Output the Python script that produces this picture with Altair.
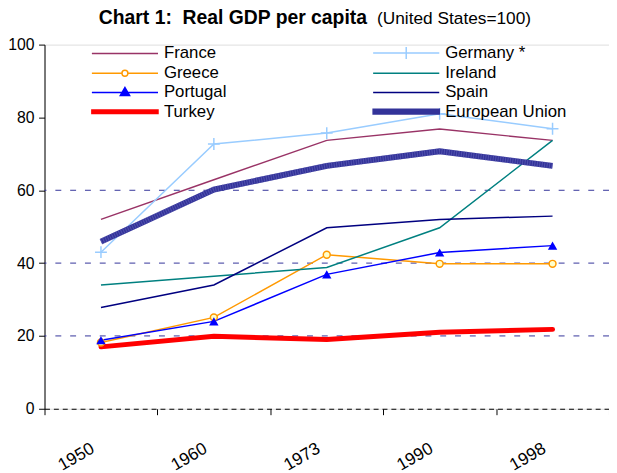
import altair as alt
import pandas as pd

years = ["1950", "1960", "1973", "1990", "1998"]
series_names = ["France", "Germany *", "Greece", "Ireland", "Portugal", "Spain", "Turkey", "European Union"]
series_colors = ["#993366", "#99CCFF", "#FF9900", "#008080", "#0000FF", "#000080", "#FF0000", "#333399"]
legend_fills = ["transparent", "transparent", "transparent", "transparent", "#0000FF", "transparent", "#FF0000", "#333399"]

france = [52.0, 62.9, 73.7, 76.8, 73.7]
germany = [43.0, 72.7, 75.7, 81.0, 76.9]
greece = [18.2, 25.1, 42.3, 39.8, 39.8]
ireland = [34.0, 36.4, 38.8, 49.7, 73.7]
portugal = [18.8, 24.0, 36.9, 42.9, 44.8]
spain = [27.8, 34.0, 49.7, 52.0, 52.9]
turkey = [17.0, 19.9, 19.0, 21.0, 21.8]
eu = [45.9, 60.2, 66.7, 70.7, 66.7]

y_ticks = [0, 20, 40, 60, 80, 100]
grid_values = [20, 40, 60]

all_values = [france, germany, greece, ireland, portugal, spain, turkey, eu]
rows = []
for name, vals in zip(series_names, all_values):
    for yr, v in zip(years, vals):
        rows.append({"series": name, "year": yr, "value": v})
df = pd.DataFrame(rows)
grid_df = pd.DataFrame({"value": grid_values})

FONT = "Liberation Sans"

x_enc = alt.X(
    "year:N", sort=years, bandPosition=0.5,
    scale=alt.Scale(type="band", domain=years, paddingInner=0, paddingOuter=0),
    axis=alt.Axis(title=None, tickBand="extent", labelAngle=-30, labelAlign="right",
                  labelBaseline="top", labelOffset=-13, labelPadding=25, labelFontSize=17.5,
                  labelFont=FONT, labelColor="black", domainDash=[5, 4], domainColor="black",
                  domainWidth=1, tickColor="black", tickSize=6, grid=False),
)
y_enc = alt.Y(
    "value:Q",
    scale=alt.Scale(domain=[0, 100], nice=False, zero=True),
    axis=alt.Axis(title=None, values=y_ticks, grid=False, domainColor="black", tickColor="black",
                  tickSize=6, labelFontSize=16, labelFont=FONT, labelColor="black", labelPadding=4.5),
)

# legend symbol paths (unit = sqrt(symbolSize)/2 = 8 px)
path_plain = "M-1,0L7.375,0"
path_germany = "M-1,0L7.375,0M3.19,-0.75L3.19,0.75"
path_greece = "M-1,0L2.81,0M3.56,0A0.375,0.375,0,1,1,2.81,0A0.375,0.375,0,1,1,3.56,0M3.56,0L7.375,0"
path_portugal = "M-1,0L7.375,0M3.19,-0.62L3.78,0.4L2.6,0.4Z"
path_turkey = "M-1,-0.22L7.375,-0.22L7.375,0.22L-1,0.22Z"
path_eu = "M-1,-0.3L7.375,-0.3L7.375,0.3L-1,0.3Z"
legend_shapes = [path_plain, path_germany, path_greece, path_plain, path_portugal, path_plain, path_turkey, path_eu]

legend = alt.Legend(
    title=None, orient="none", direction="horizontal", legendX=47, legendY=-0.5, columns=2,
    columnPadding=145, rowPadding=2.5, padding=0, symbolSize=256, symbolStrokeWidth=1.5,
    symbolOpacity=1, labelFontSize=17, labelFont=FONT, labelColor="black", labelOffset=56,
)

stroke_scale = alt.Scale(domain=series_names, range=series_colors)

base = alt.Chart(df).encode(x=x_enc, y=y_enc)

grid = alt.Chart(grid_df).mark_rule(color="#333399", strokeDash=[6, 9], strokeWidth=1).encode(y="value:Q")

thin = base.transform_filter(
    "datum.series !== 'Turkey' && datum.series !== 'European Union'"
).mark_line(strokeWidth=1.5).encode(stroke=alt.Stroke("series:N", scale=stroke_scale, legend=legend))

turkey_line = base.transform_filter("datum.series === 'Turkey'").mark_line(
    strokeWidth=5, color="#FF0000", strokeCap="round")
eu_line = base.transform_filter("datum.series === 'European Union'").mark_line(
    strokeWidth=6, color="#333399")
eu_pattern = base.transform_filter("datum.series === 'European Union'").mark_line(
    strokeWidth=6, color="#6A6AC0", strokeDash=[1, 1.5], opacity=0.55)

legend_layer = base.transform_filter("false").mark_point(opacity=1, filled=True, strokeWidth=1.5).encode(
    stroke=alt.Stroke("series:N", scale=stroke_scale, legend=legend),
    fill=alt.Fill("series:N", scale=alt.Scale(domain=series_names, range=legend_fills), legend=legend),
    shape=alt.Shape("series:N", scale=alt.Scale(domain=series_names, range=legend_shapes), legend=legend),
)

germany_pts = base.transform_filter("datum.series === 'Germany *'").mark_point(
    shape="M-1,0L1,0M0,-1L0,1", size=144, strokeWidth=1.5, color="#99CCFF", filled=False, opacity=1)
greece_pts = base.transform_filter("datum.series === 'Greece'").mark_point(
    shape="circle", size=49, filled=True, fill="#FFFFCC", stroke="#FF9900", strokeWidth=1.5, opacity=1)
portugal_pts = base.transform_filter("datum.series === 'Portugal'").mark_point(
    shape="triangle-up", size=90, filled=True, color="#0000FF", opacity=1)

nb = "\u00a0"
chart = alt.layer(
    grid, thin, turkey_line, eu_line, eu_pattern, germany_pts, greece_pts, portugal_pts, legend_layer
).properties(
    width=572, height=369,
    autosize=alt.AutoSizeParams(type="none"),
    padding={"left": 37, "top": 34, "right": 0, "bottom": 62},
    title=alt.TitleParams(
        text="Chart 1:" + nb + nb + "Real GDP per capita",
        subtitle="\u200b" + nb * 58 + "(United States=100)",
        anchor="start", frame="group", dx=55, offset=8,
        font=FONT, fontSize=19.6, fontWeight="bold", color="black",
        subtitleFont=FONT, subtitleFontSize=17.5, subtitleColor="black", subtitlePadding=-19,
    ),
).configure_view(
    stroke=None, fill="#FFFFCC"
).configure(background="white")

chart.save("out.html", embed_options={"renderer": "svg", "actions": False})
